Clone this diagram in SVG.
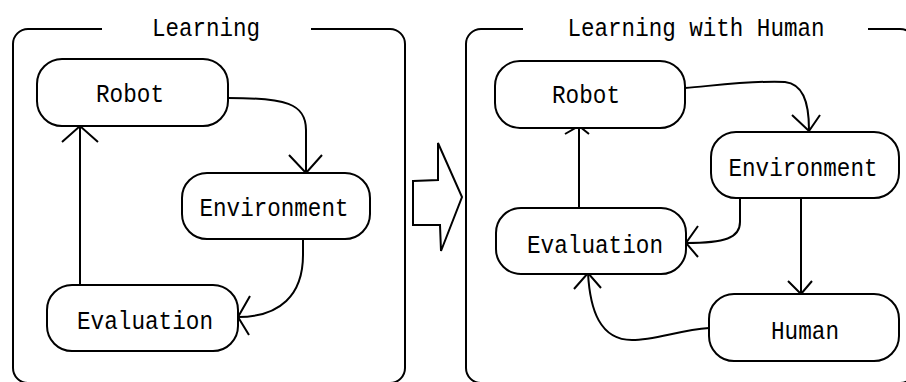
<svg xmlns="http://www.w3.org/2000/svg" width="906" height="382" viewBox="0 0 906 382">
<style>
.frame{fill:none;stroke:#000;stroke-width:2}
.node rect{fill:#fff;stroke:#000;stroke-width:2}
.lbl{font-family:"Liberation Mono","DejaVu Sans Mono",monospace;font-size:26px;fill:#000;text-anchor:middle}
.edge{fill:none;stroke:#000;stroke-width:2}
.bigarrow{fill:#fff;stroke:#000;stroke-width:2;stroke-linejoin:miter}
</style>
<rect width="906" height="382" fill="#fff"/>
<g id="frame-learning">
<path class="frame" d="M102,29 H28 A15,15 0 0 0 13,44 V368 A15,15 0 0 0 28,383 H390 A15,15 0 0 0 405,368 V44 A15,15 0 0 0 390,29 H311"/>
<text class="lbl" x="206" y="36" textLength="108" lengthAdjust="spacingAndGlyphs">Learning</text>
</g>
<g id="frame-learning-human">
<path class="frame" d="M523,29 H481 A15,15 0 0 0 466,44 V368 A15,15 0 0 0 481,383 H900 A15,15 0 0 0 915,368 V44 A15,15 0 0 0 900,29 H868"/>
<text class="lbl" x="696" y="36" textLength="257" lengthAdjust="spacingAndGlyphs">Learning with Human</text>
</g>
<g id="transition-arrow">
<path class="bigarrow" d="M413,181 L438,180 L438,143 L462,197 L441,251 L440,225 L413,225 Z"/>
</g>
<g id="connectors">
<path class="edge" d="M228,98 C285,98 306,103 306,130 L306,173"/>
<path class="edge" d="M289,155 L306,173 L322,155"/>
<path class="edge" d="M80,285 V126"/>
<path class="edge" d="M62,142 L80,126 L98,142"/>
<path class="edge" d="M303,239 V255 C303,295 280,317 238,317"/>
<path class="edge" d="M250,296 L238,317 L249,335"/>
<path class="edge" d="M685,88 C720,85 760,80 785,82 C802,84 809,100 809,130"/>
<path class="edge" d="M792,115 L809,131 L820,115"/>
<path class="edge" d="M579,208 V127"/>
<path class="edge" d="M565,134 L579,126 L589,134"/>
<path class="edge" d="M740,198 V222 C740,238 725,243 686,243"/>
<path class="edge" d="M698,226 L686,243 L698,257"/>
<path class="edge" d="M801,198 V294"/>
<path class="edge" d="M788,281 L801,294 L812,281"/>
<path class="edge" d="M709,328 C680,330 655,340 632,340 C600,340 590,310 588,273"/>
<path class="edge" d="M574,289 L588,273 L601,288"/>
</g>
<g id="node-robot-1" class="node">
<rect x="37" y="59" width="191" height="67" rx="25"/>
<text class="lbl" x="130" y="102" textLength="68" lengthAdjust="spacingAndGlyphs">Robot</text>
</g>
<g id="node-environment-1" class="node">
<rect x="182" y="173" width="188" height="66" rx="25"/>
<text class="lbl" x="274" y="216" textLength="149" lengthAdjust="spacingAndGlyphs">Environment</text>
</g>
<g id="node-evaluation-1" class="node">
<rect x="47" y="285" width="191" height="66" rx="25"/>
<text class="lbl" x="145" y="329" textLength="136" lengthAdjust="spacingAndGlyphs">Evaluation</text>
</g>
<g id="node-robot-2" class="node">
<rect x="495" y="61" width="190" height="67" rx="25"/>
<text class="lbl" x="586" y="103" textLength="68" lengthAdjust="spacingAndGlyphs">Robot</text>
</g>
<g id="node-environment-2" class="node">
<rect x="711" y="132" width="188" height="66" rx="25"/>
<text class="lbl" x="803" y="176" textLength="149" lengthAdjust="spacingAndGlyphs">Environment</text>
</g>
<g id="node-evaluation-2" class="node">
<rect x="496" y="208" width="190" height="66" rx="25"/>
<text class="lbl" x="595" y="253" textLength="136" lengthAdjust="spacingAndGlyphs">Evaluation</text>
</g>
<g id="node-human" class="node">
<rect x="709" y="294" width="190" height="67" rx="25"/>
<text class="lbl" x="805" y="339" textLength="68" lengthAdjust="spacingAndGlyphs">Human</text>
</g>
</svg>
